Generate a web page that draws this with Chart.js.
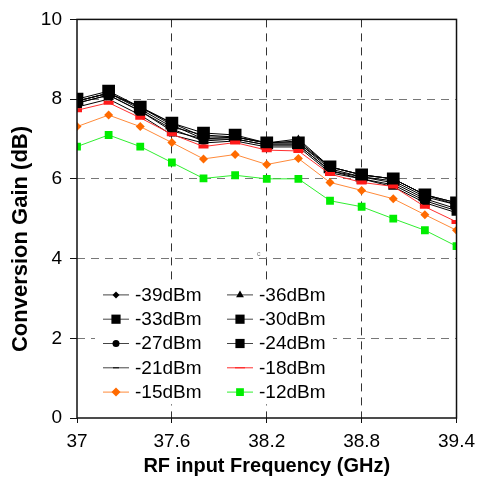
<!DOCTYPE html>
<html>
<head>
<meta charset="utf-8">
<script src="https://cdn.jsdelivr.net/npm/chart.js@4.4.0/dist/chart.umd.min.js"></script>
<style>
  html, body { margin: 0; padding: 0; background: #fff; }
</style>
</head>
<body>
<canvas id="chart" width="482" height="484"></canvas>
<script>
// RF input frequency (GHz)
const freqs = [37, 37.2, 37.4, 37.6, 37.8, 38.0, 38.2, 38.4, 38.6, 38.8, 39.0, 39.2, 39.4];
const xTicks = [37, 37.6, 38.2, 38.8, 39.4];
const yTicks = [0, 2, 4, 6, 8, 10];

// conversion gain (dB) per LO power
const names = ["-39dBm", "-36dBm", "-33dBm", "-30dBm", "-27dBm", "-24dBm", "-21dBm", "-18dBm", "-15dBm", "-12dBm"];
const g39 = [7.95, 8.15, 7.80, 7.35, 7.00, 7.05, 6.90, 6.95, 6.30, 6.10, 6.00, 5.60, 5.35];
const g36 = [7.95, 8.15, 7.80, 7.40, 7.05, 7.05, 6.90, 7.00, 6.30, 6.10, 6.00, 5.60, 5.40];
const g33 = [8.00, 8.20, 7.80, 7.40, 7.15, 7.10, 6.90, 6.90, 6.30, 6.10, 6.00, 5.60, 5.40];
const g30 = [7.95, 8.15, 7.75, 7.30, 7.10, 7.05, 6.90, 6.90, 6.25, 6.05, 5.95, 5.55, 5.35];
const g27 = [7.90, 8.10, 7.70, 7.25, 6.95, 7.00, 6.85, 6.85, 6.20, 6.05, 5.90, 5.50, 5.25];
const g24 = [7.90, 8.10, 7.70, 7.20, 7.00, 7.00, 6.85, 6.85, 6.20, 6.00, 5.85, 5.45, 5.20];
const g21 = [7.80, 8.00, 7.60, 7.10, 6.90, 6.95, 6.80, 6.80, 6.15, 6.00, 5.80, 5.40, 5.15];
const g18 = [7.72, 7.91, 7.53, 7.12, 6.81, 6.91, 6.72, 6.70, 6.12, 5.91, 5.81, 5.30, 4.92];
const g15 = [7.31, 7.60, 7.31, 6.91, 6.50, 6.61, 6.36, 6.51, 5.91, 5.71, 5.50, 5.10, 4.71];
const g12 = [6.81, 7.10, 6.81, 6.41, 6.01, 6.09, 6.00, 6.00, 5.45, 5.30, 5.00, 4.71, 4.31];
const gains = [g39, g36, g33, g30, g27, g24, g21, g18, g15, g12];

const FONT = "'Liberation Sans', Arial, sans-serif";

// marker look for each series: [style, radius, borderWidth, fill, line colour]
const looks = [
  ["rectRot", 3.5, 0, "#000", "#000"],
  ["triangle", 4.5, 0, "#000", "#000"],
  ["rect", 9, 0, "#000", "#000"],
  ["rect", 7, 0, "#000", "#000"],
  ["circle", 3.5, 0, "#000", "#000"],
  ["rect", 7, 0, "#000", "#000"],
  ["line", 3, 3, "#000", "#000"],
  ["line", 5, 4, "#ff1a1a", "#ff3030"],
  ["rectRot", 4.5, 0, "#ff6a00", "#ff8a3a"],
  ["rect", 5.5, 0, "#00ee00", "#30ee30"]
];

const datasets = names.map((n, i) => ({
  label: n,
  data: freqs.map((f, j) => ({ x: f, y: gains[i][j] })),
  borderColor: looks[i][4],
  borderWidth: 1,
  pointStyle: looks[i][0],
  pointRadius: looks[i][1],
  pointBorderWidth: looks[i][2],
  pointBackgroundColor: looks[i][3],
  pointBorderColor: looks[i][3],
  tension: 0,
  order: 20 - i
}));

const legendBox = {
  id: "legendBox",
  afterDraw(chart) {
    const ctx = chart.ctx;
    const ca = chart.chartArea;
    ctx.save();
    // white legend panel
    ctx.fillStyle = "#fff";
    ctx.fillRect(ca.left + 18, ca.top + 265, 238, 120);
    ctx.font = "19px " + FONT;
    ctx.textBaseline = "middle";
    names.forEach((n, i) => {
      const col = i % 2, row = Math.floor(i / 2);
      const x0 = ca.left + 26 + col * 124;
      const y = ca.top + 275 + row * 24.3;
      const lk = looks[i];
      ctx.strokeStyle = i < 7 ? "#444" : lk[4];
      ctx.lineWidth = 1;
      ctx.beginPath();
      ctx.moveTo(x0, y + 0.5);
      ctx.lineTo(x0 + 26, y + 0.5);
      ctx.stroke();
      ctx.fillStyle = lk[3];
      ctx.strokeStyle = lk[3];
      let r = lk[1];
      if (lk[0] === "rect") r = Math.min(r, 6.5);
      Chart.helpers.drawPoint(ctx, { pointStyle: lk[0], radius: r, borderWidth: lk[2], rotation: 0 }, x0 + 13, y + 0.5);
      ctx.fillStyle = "#000";
      ctx.fillText(n, x0 + 32, y + 1);
    });
    // frame
    ctx.strokeStyle = "#111";
    ctx.lineWidth = 1.5;
    ctx.strokeRect(ca.left, ca.top, ca.right - ca.left, ca.bottom - ca.top);
    // y axis title
    ctx.save();
    ctx.translate(21, 239);
    ctx.rotate(-Math.PI / 2);
    ctx.textAlign = "center";
    ctx.textBaseline = "middle";
    ctx.fillStyle = "#000";
    ctx.font = "bold 22px " + FONT;
    ctx.fillText("Conversion Gain (dB)", 0, 0);
    ctx.restore();
    // stray mark
    ctx.fillStyle = "#777";
    ctx.font = "7px " + FONT;
    ctx.fillText("c", ca.left + 180, ca.top + 235);
    ctx.restore();
  }
};

new Chart(document.getElementById("chart"), {
  type: "line",
  data: { datasets },
  options: {
    responsive: false,
    devicePixelRatio: 1,
    animation: false,
    layout: { padding: { top: 18, right: 19, left: 0, bottom: 0 } },
    plugins: { legend: { display: false }, tooltip: { enabled: false } },
    scales: {
      x: {
        type: "linear",
        min: 37,
        max: 39.4,
        afterBuildTicks: s => { s.ticks = xTicks.map(v => ({ value: v })); },
        afterFit: s => { s.height = 66; },
        ticks: {
          color: "#000",
          font: { family: FONT, size: 19 },
          padding: 7,
          maxRotation: 0,
          callback: v => String(Math.round(v * 10) / 10)
        },
        grid: {
          color: c => (c.tick && (c.tick.value === 37 || c.tick.value === 39.4)) ? "rgba(0,0,0,0)" : "#333",
          tickColor: "#111",
          tickLength: 5,
          lineWidth: 1
        },
        border: { display: false, dash: [8, 6] },
        title: {
          display: true,
          text: "RF input Frequency (GHz)",
          color: "#000",
          font: { family: FONT, size: 20, weight: "bold" },
          padding: { top: 0, bottom: 6 }
        }
      },
      y: {
        min: 0,
        max: 10,
        afterBuildTicks: s => { s.ticks = yTicks.map(v => ({ value: v })); },
        afterFit: s => { s.width = 77; },
        ticks: {
          color: "#000",
          font: { family: FONT, size: 19 },
          padding: 8
        },
        grid: {
          color: c => (c.tick && (c.tick.value === 0 || c.tick.value === 10)) ? "rgba(0,0,0,0)" : "#777",
          tickColor: "#111",
          tickLength: 7,
          lineWidth: 1
        },
        border: { display: false, dash: [8, 6] },
        title: { display: false }
      }
    }
  },
  plugins: [legendBox]
});
</script>
</body>
</html>
